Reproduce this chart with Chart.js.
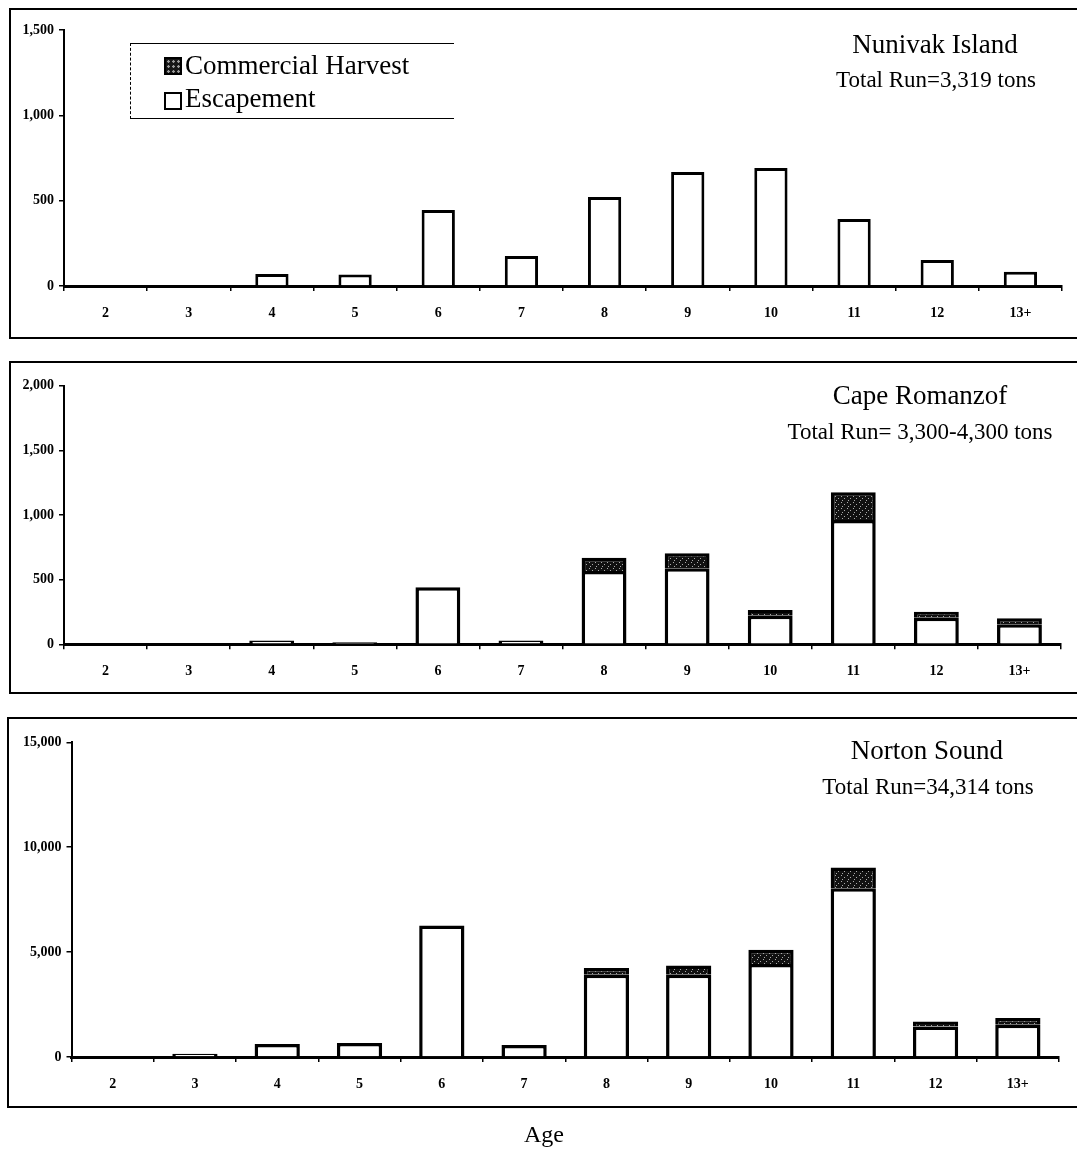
<!DOCTYPE html>
<html>
<head>
<meta charset="utf-8">
<script src="https://cdn.jsdelivr.net/npm/chart.js@4.4.1/dist/chart.umd.min.js"></script>
<style>
  html, body { margin: 0; padding: 0; background: #fff; }
  body { width: 1077px; height: 1156px; position: relative; overflow: hidden; font-family: "Liberation Serif", "Times New Roman", serif; color: #000; }
  .box { position: absolute; border: 2px solid #000; border-right: none; }
  canvas { position: absolute; left: 0; }
  .txt { position: absolute; white-space: nowrap; line-height: 1; transform: translateX(-50%); }
  .legend { position: absolute; left: 130px; top: 43px; width: 323px; height: 74px; border-top: 1.5px solid #000; border-bottom: 1.5px solid #000; border-left: 1.5px dashed #000; }
  .legend-item { position: absolute; left: 31px; font-size: 27px; line-height: 1; white-space: nowrap; }
  .swatch { position: absolute; left: 33px; width: 14px; height: 14px; border: 2px solid #000; box-sizing: content-box; }
</style>
</head>
<body>

<div class="box" style="left:9px; top:8px; width:1070px; height:327px;"></div>
<div class="box" style="left:9px; top:361px; width:1070px; height:329px;"></div>
<div class="box" style="left:7px; top:717px; width:1072px; height:387px;"></div>

<canvas id="nunivak" width="1077" height="345" style="top:0px;"></canvas>
<canvas id="cape" width="1077" height="355" style="top:345px;"></canvas>
<canvas id="norton" width="1077" height="456" style="top:700px;"></canvas>

<div class="legend">
  <div class="swatch" id="harvest-swatch" style="top:13px;"></div>
  <div class="legend-item" style="left:54px; top:8px;">Commercial Harvest</div>
  <div class="swatch" style="top:48px; background:#fff;"></div>
  <div class="legend-item" style="left:54px; top:41px;">Escapement</div>
</div>

<div class="txt" style="left:935px; top:31px; font-size:27px;">Nunivak Island</div>
<div class="txt" style="left:936px; top:68px; font-size:23px;">Total Run=3,319 tons</div>
<div class="txt" style="left:920px; top:382px; font-size:27px;">Cape Romanzof</div>
<div class="txt" style="left:920px; top:420px; font-size:23px;">Total Run= 3,300-4,300 tons</div>
<div class="txt" style="left:927px; top:737px; font-size:27px;">Norton Sound</div>
<div class="txt" style="left:928px; top:775px; font-size:23px;">Total Run=34,314 tons</div>
<div class="txt" style="left:544px; top:1122px; font-size:24px;">Age</div>

<script>
// age classes on the x axis
const ages = ["2", "3", "4", "5", "6", "7", "8", "9", "10", "11", "12", "13+"];

// biomass (tons)
const nunivakEscapement = [0, 5, 70, 68, 445, 176, 521, 668, 691, 392, 152, 84];
const nunivakHarvest = [0, 0, 0, 0, 0, 0, 0, 0, 0, 0, 0, 0];

const capeEscapement = [0, 0, 30, 15, 441, 30, 567, 588, 221, 961, 206, 155];
const capeHarvest = [0, 0, 0, 0, 0, 0, 103, 116, 44, 214, 46, 46];

const nortonEscapement = [0, 150, 619, 667, 6267, 571, 3919, 3919, 4429, 8048, 1457, 1538];
const nortonHarvest = [0, 0, 0, 0, 0, 0, 319, 443, 681, 981, 238, 319];

// y axis ranges
const nunivakTicks = { max: 1500, step: 500 };
const capeTicks = { max: 2000, step: 500 };
const nortonTicks = { max: 15000, step: 5000 };

// stippled dark fill used for the harvest segments
function makeHarvestPattern() {
  const c = document.createElement("canvas");
  c.width = 6;
  c.height = 6;
  const g = c.getContext("2d");
  g.fillStyle = "#111";
  g.fillRect(0, 0, 6, 6);
  g.fillStyle = "#aaa";
  g.fillRect(1, 1, 1, 1);
  g.fillRect(4, 3, 1, 1);
  g.fillRect(2, 5, 1, 1);
  return g.createPattern(c, "repeat");
}

const harvestFill = makeHarvestPattern();
document.getElementById("harvest-swatch").style.background =
  "radial-gradient(circle, #999 0 1px, #151515 1.5px) 0 0 / 5px 5px";

const tickFont = { family: "'Liberation Serif', serif", size: 14, weight: "bold" };

function buildChart(id, escapement, harvest, range, layout) {
  const ctx = document.getElementById(id);
  return new Chart(ctx, {
    type: "bar",
    data: {
      labels: ages,
      datasets: [
        {
          label: "Escapement",
          data: escapement,
          backgroundColor: "#fff",
          borderColor: "#000",
          borderWidth: layout.barBorder,
          borderSkipped: "start",
          barPercentage: layout.barPct,
          categoryPercentage: 1,
        },
        {
          label: "Commercial Harvest",
          data: harvest,
          backgroundColor: harvestFill,
          borderColor: "#000",
          borderWidth: layout.barBorder,
          borderSkipped: "start",
          barPercentage: layout.barPct,
          categoryPercentage: 1,
        },
      ],
    },
    options: {
      responsive: false,
      animation: false,
      events: [],
      layout: {
        autoPadding: false,
        padding: { top: layout.top, right: layout.right, bottom: layout.bottom, left: 0 },
      },
      plugins: {
        legend: { display: false },
        tooltip: { enabled: false },
      },
      scales: {
        x: {
          stacked: true,
          grid: { display: true, drawOnChartArea: false, drawTicks: true, tickLength: 5, color: "#000", lineWidth: 1.5, offset: true },
          border: { display: true, color: "#000", width: 3 },
          ticks: { color: "#000", font: tickFont, padding: 14, maxRotation: 0 },
          afterFit(scale) { scale.height = layout.xHeight; },
        },
        y: {
          stacked: true,
          min: 0,
          max: range.max,
          grid: { display: true, drawOnChartArea: false, drawTicks: true, tickLength: 5, color: "#000", lineWidth: 1.5 },
          border: { display: true, color: "#000", width: 2, dash: layout.axisDash },
          ticks: {
            stepSize: range.step,
            color: "#000",
            font: tickFont,
            padding: 5,
            callback: (v) => Number(v).toLocaleString("en-US"),
          },
          afterFit(scale) { scale.width = layout.axisX; },
        },
      },
    },
  });
}

buildChart("nunivak", nunivakEscapement, nunivakHarvest, nunivakTicks,
  { top: 30, right: 15, bottom: 19, xHeight: 40, axisX: 64, barPct: 0.4, barBorder: 3, axisDash: [7, 2] });

buildChart("cape", capeEscapement, capeHarvest, capeTicks,
  { top: 40.7, right: 16, bottom: 15.7, xHeight: 40, axisX: 64, barPct: 0.54, barBorder: 3.5, axisDash: [5, 3] });

buildChart("norton", nortonEscapement, nortonHarvest, nortonTicks,
  { top: 42.3, right: 18, bottom: 59, xHeight: 40, axisX: 71.5, barPct: 0.55, barBorder: 3.5, axisDash: [] });
</script>
</body>
</html>
